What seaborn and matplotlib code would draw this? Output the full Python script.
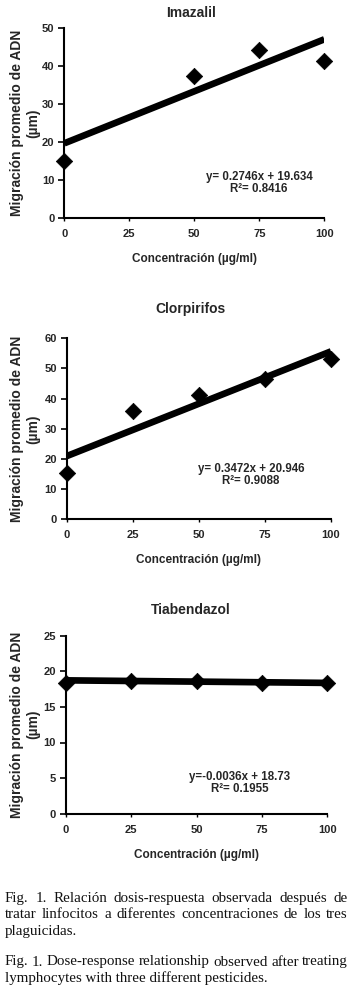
import matplotlib
matplotlib.use("Agg")
import numpy as np
import pandas as pd
import seaborn as sns
import matplotlib.pyplot as plt

# datos
titulos = ["Imazalil", "Clorpirifos", "Tiabendazol"]
conc_imazalil = [0, 50, 75, 100]
migr_imazalil = [15.0, 37.4, 44.4, 41.4]
conc_clorpirifos = [0, 25, 50, 75, 100]
migr_clorpirifos = [15.4, 35.8, 41.3, 46.6, 53.1]
conc_tiabendazol = [0, 25, 50, 75, 100]
migr_tiabendazol = [18.4, 18.65, 18.6, 18.4, 18.35]
pendientes = [0.2746, 0.3472, -0.0036]
intercepciones = [19.634, 20.946, 18.73]
ecuaciones = ["y= 0.2746x + 19.634\nR²= 0.8416",
              "y= 0.3472x + 20.946\nR²= 0.9088",
              "y=-0.0036x + 18.73\nR²= 0.1955"]
ymax = [50, 60, 25]
ypasos = [10, 10, 5]
xticks = [0, 25, 50, 75, 100]

caption_es = ["Fig. 1. Relación dosis-respuesta observada después de",
              "tratar linfocitos a diferentes concentraciones de los tres",
              "plaguicidas."]
caption_en = ["Fig. 1. Dose-response relationship observed after treating",
              "lymphocytes with three different pesticides."]

W, H = 357, 1001
sns.set_theme(style="white")
plt.rcParams['font.family'] = ['Liberation Sans', 'DejaVu Sans']

fig = plt.figure(figsize=(W / 100, H / 100), dpi=100)

def px(x0, y0, x1, y1):
    # caja en pixeles (arriba-izquierda) -> fraccion de figura
    return [x0 / W, 1 - y1 / H, (x1 - x0) / W, (y1 - y0) / H]

cajas = [px(64.3, 28.3, 324.3, 217.7),
         px(66.7, 338.3, 331.0, 519.3),
         px(65.7, 635.7, 327.3, 813.7)]
titulo_y = [13, 309, 610]
texto_pos = [(74.9, 9.2), (69.7, 14.7), (66.4, 4.3)]
datos = [(conc_imazalil, migr_imazalil),
         (conc_clorpirifos, migr_clorpirifos),
         (conc_tiabendazol, migr_tiabendazol)]

for i in range(3):
    ax = fig.add_axes(cajas[i])
    x, y = datos[i]
    df = pd.DataFrame({"x": x, "y": y})
    lx = np.array([0, 100])
    dfl = pd.DataFrame({"x": lx, "y": intercepciones[i] + pendientes[i] * lx})
    sns.lineplot(data=dfl, x="x", y="y", ax=ax, color="black", linewidth=4.8,
                 solid_capstyle="butt", zorder=2)
    sns.scatterplot(data=df, x="x", y="y", ax=ax, marker="D", s=70, color="black",
                    edgecolor="black", linewidth=0.5, zorder=3, clip_on=False)
    ax.set_xlim(0, 100)
    ax.set_ylim(0, ymax[i])
    ax.set_xticks(xticks)
    ax.set_yticks(np.arange(0, ymax[i] + 1, ypasos[i]))
    for s in ["top", "right"]:
        ax.spines[s].set_visible(False)
    for s in ["left", "bottom"]:
        ax.spines[s].set_color("black")
        ax.spines[s].set_linewidth(1.5)
    ax.tick_params(axis="y", which="major", direction="out", length=4, width=1.2,
                   color="black", left=True, pad=3, labelsize=8)
    ax.tick_params(axis="x", which="major", direction="out", length=2.5, width=1,
                   color="black", bottom=True, pad=5.5, labelsize=8)
    for lab in ax.get_xticklabels() + ax.get_yticklabels():
        lab.set_fontweight("bold")
    ax.set_ylabel("")
    ax.set_xlabel("Concentración (µg/ml)", fontsize=8.5, fontweight="bold", labelpad=10)
    tx, ty = texto_pos[i]
    ax.text(tx, ty, ecuaciones[i], fontsize=8.3, fontweight="bold", ha="center",
            va="center", linespacing=1.05)
    fig.text(191 / W, 1 - titulo_y[i] / H, titulos[i], fontsize=10, fontweight="bold",
             ha="center", va="center")
    pos = ax.get_position()
    fig.text(25 / W, pos.y0 + pos.height / 2, "Migración promedio de ADN\n(µm)",
             rotation=90, fontsize=10, fontweight="bold", ha="center", va="center",
             multialignment="center", linespacing=1.25)

# pie de figura justificado
serif = ['Liberation Serif', 'DejaVu Serif']
renderer = fig.canvas.get_renderer()
x_izq, x_der = 5, 348

def ancho(txt, fs):
    t = fig.text(0, 0, txt, fontsize=fs, family=serif)
    w = t.get_window_extent(renderer=renderer).width
    t.remove()
    return w

# tamaño tal que la linea mas larga ocupe el ancho disponible
fs = 10 * (x_der - x_izq) / ancho(caption_en[0], 10)

def parrafo(lineas, y0, paso):
    for k, linea in enumerate(lineas):
        yy = 1 - (y0 + k * paso) / H
        lin = linea.split()
        if k == len(lineas) - 1:
            fig.text(x_izq / W, yy, linea, fontsize=fs, family=serif,
                     ha="left", va="baseline", color="#111111")
            continue
        anchos = [ancho(p, fs) for p in lin]
        hueco = ((x_der - x_izq) - sum(anchos)) / (len(lin) - 1)
        xx = x_izq
        for p, w in zip(lin, anchos):
            fig.text(xx / W, yy, p, fontsize=fs, family=serif, ha="left",
                     va="baseline", color="#111111")
            xx += w + hueco

parrafo(caption_es, 901.7, 16.7)
parrafo(caption_en, 965.5, 16.5)

fig.savefig("out.png", dpi=100)
